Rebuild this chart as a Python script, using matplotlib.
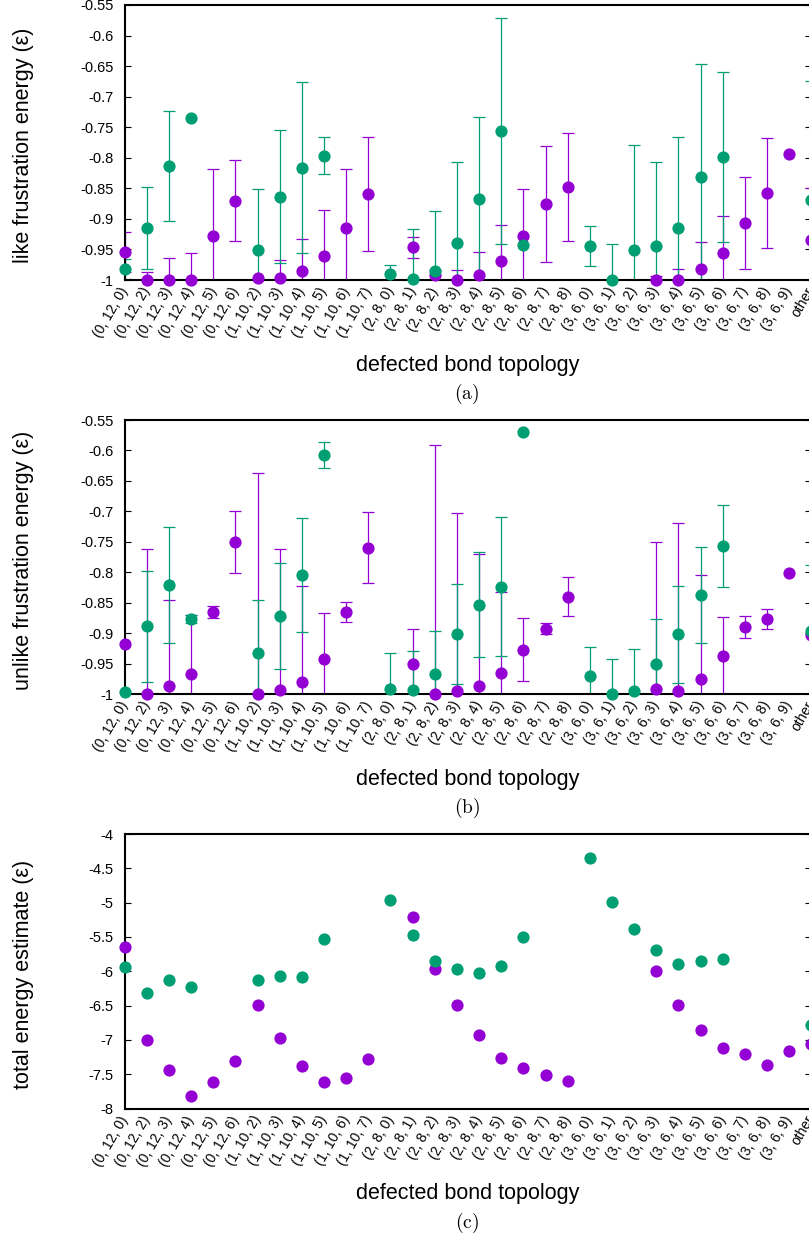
import numpy as np
import matplotlib
matplotlib.use("Agg")
import matplotlib.pyplot as plt

plt.rcParams['font.family'] = ['Liberation Sans', 'DejaVu Sans']
plt.rcParams['mathtext.fontset'] = 'cm'

nan = np.nan

# categories on the x axis
topologies = ["(0, 12, 0)", "(0, 12, 2)", "(0, 12, 3)", "(0, 12, 4)", "(0, 12, 5)", "(0, 12, 6)",
              "(1, 10, 2)", "(1, 10, 3)", "(1, 10, 4)", "(1, 10, 5)", "(1, 10, 6)", "(1, 10, 7)",
              "(2, 8, 0)", "(2, 8, 1)", "(2, 8, 2)", "(2, 8, 3)", "(2, 8, 4)", "(2, 8, 5)",
              "(2, 8, 6)", "(2, 8, 7)", "(2, 8, 8)", "(3, 6, 0)", "(3, 6, 1)", "(3, 6, 2)",
              "(3, 6, 3)", "(3, 6, 4)", "(3, 6, 5)", "(3, 6, 6)", "(3, 6, 7)", "(3, 6, 8)",
              "(3, 6, 9)", "other"]

# (a) like frustration energy: mean and std
like_purple = [-0.9536, -1.0, -1.0, -1.0, -0.9285, -0.8702, -0.997, -0.9965, -0.9857, -0.9607, -0.9144, -0.8593,
               nan, -0.9465, -0.9918, -1.0, -0.9913, -0.9695, -0.9275, -0.8756, -0.8473, nan, nan, nan,
               -1.0, -1.0, -0.9815, -0.9553, -0.9067, -0.8576, -0.7938, -0.9345]
like_purple_err = [0.0327, 0.0136, 0.0355, 0.0447, 0.1107, 0.0666, 0.0, 0.03, 0.053, 0.0758, 0.0966, 0.0935,
                   nan, 0.0175, 0.008, 0.0164, 0.037, 0.059, 0.076, 0.0945, 0.0884, nan, nan, nan,
                   0.0065, 0.0185, 0.043, 0.06, 0.0758, 0.0905, 0.0, 0.0845]
like_green = [-0.9825, -0.9144, -0.8135, -0.7355, nan, nan, -0.9509, -0.8636, -0.8162, -0.7965, nan, nan,
              -0.9902, -0.998, -0.9853, -0.94, -0.8669, -0.7562, -0.9433, nan, nan, -0.9444, -1.0, -0.9504,
              -0.9444, -0.9149, -0.832, -0.7982, nan, nan, nan, -0.8691]
like_green_err = [0.0165, 0.0671, 0.0905, 0.0, nan, nan, 0.1004, 0.1091, 0.1402, 0.0303, nan, nan,
                  0.0147, 0.081, 0.0977, 0.1331, 0.1336, 0.1855, 0.0, nan, nan, 0.0322, 0.0595, 0.1713,
                  0.1369, 0.1489, 0.1855, 0.1392, nan, nan, nan, 0.1947]

# (b) unlike frustration energy: mean and std
unlike_purple = [-0.9179, -1.0, -0.9869, -0.9677, -0.8653, -0.7504, -1.0, -0.9934, -0.9803, -0.9425, -0.8653, -0.7597,
                 nan, -0.9507, -1.0, -0.9945, -0.9863, -0.9661, -0.9272, -0.8927, -0.8401, nan, nan, nan,
                 -0.9923, -0.9945, -0.9748, -0.9376, -0.8894, -0.8768, -0.8018, -0.9031]
unlike_purple_err = [0.0, 0.2387, 0.1418, 0.0974, 0.0106, 0.0513, 0.3635, 0.2315, 0.1571, 0.0755, 0.0159, 0.0586,
                     nan, 0.0569, 0.4084, 0.2912, 0.2163, 0.1331, 0.052, 0.009, 0.0315, nan, nan, nan,
                     0.2425, 0.2753, 0.1708, 0.0646, 0.018, 0.0158, 0.0, 0.0]
unlike_green = [-0.9962, -0.8889, -0.8215, -0.8768, nan, nan, -0.9332, -0.8719, -0.8046, -0.6075, nan, nan,
                -0.9923, -0.9934, -0.9677, -0.9015, -0.8533, -0.8237, -0.5703, nan, nan, -0.9704, -1.0, -0.9945,
                -0.9513, -0.902, -0.8374, -0.7569, nan, nan, nan, -0.8965]
unlike_green_err = [0.0, 0.0915, 0.0952, 0.0065, nan, nan, 0.0876, 0.0867, 0.0942, 0.021, nan, nan,
                    0.0591, 0.064, 0.0712, 0.0816, 0.086, 0.1138, 0.0, nan, nan, 0.0481, 0.0569, 0.069,
                    0.0745, 0.08, 0.0794, 0.0673, nan, nan, nan, 0.1089]

# (c) total energy estimate
total_purple = [-5.650, -7.0, -7.437, -7.825, -7.607, -7.301, -6.490, -6.976, -7.374, -7.607, -7.558, -7.282,
                nan, -5.204, -5.966, -6.485, -6.927, -7.257, -7.417, -7.519, -7.592, nan, nan, nan,
                -5.990, -6.485, -6.854, -7.117, -7.199, -7.359, -7.165, -7.058]
total_green = [-5.942, -6.320, -6.126, -6.233, nan, nan, -6.121, -6.073, -6.078, -5.524, nan, nan,
               -4.961, -5.476, -5.850, -5.966, -6.019, -5.927, -5.495, nan, nan, -4.350, -4.995, -5.388,
               -5.694, -5.893, -5.845, -5.825, nan, nan, nan, -6.777]

purple = "#9400d3"
green = "#009e73"

W, H = 809, 1239
fig = plt.figure(figsize=(W / 100, H / 100), dpi=100)
x = np.arange(len(topologies))


def make_axes(top, bottom):
    return fig.add_axes([124.7 / W, 1 - bottom / H, (811.3 - 124.7) / W, (bottom - top) / H])


def style(ax, ymin, ymax, step):
    ax.set_xlim(0, len(topologies) - 1)
    ax.set_ylim(ymin, ymax)
    ticks = np.round(np.arange(ymin, ymax + step / 2, step), 3)
    ax.set_yticks(ticks)
    ax.set_yticklabels(["%g" % t for t in ticks], fontsize=10.5)
    ax.tick_params(axis="y", direction="in", length=4.5, width=0.8, left=True, right=True, pad=8)
    ax.set_xticks(x)
    ax.set_xticklabels(topologies, rotation=60, ha="right", va="center",
                       rotation_mode="anchor", fontsize=10)
    ax.tick_params(axis="x", length=0, pad=6)
    for s in ax.spines.values():
        s.set_linewidth(1.5)


def draw(ax, vals, errs, color):
    v = np.array(vals, dtype=float)
    if errs is not None:
        e = np.array(errs, dtype=float)
        m = ~np.isnan(v) & (e > 0)
        ax.errorbar(x[m], v[m], yerr=e[m], fmt="none", ecolor=color, elinewidth=0.9,
                    capsize=4.3, capthick=0.9, zorder=2)
    ax.plot(x, v, "o", color=color, ms=8.8, mew=0, clip_on=False, zorder=3)


# top and bottom of each panel's frame, in pixels
panels = [
    (5, 280, like_purple, like_purple_err, like_green, like_green_err,
     -1, -0.55, 0.05, "like frustration energy (ε)", "(a)"),
    (420, 694, unlike_purple, unlike_purple_err, unlike_green, unlike_green_err,
     -1, -0.55, 0.05, "unlike frustration energy (ε)", "(b)"),
    (834, 1108.5, total_purple, None, total_green, None,
     -8, -4, 0.5, "total energy estimate (ε)", "(c)"),
]

for top, bottom, pv, pe, gv, ge, ymin, ymax, step, ylab, cap in panels:
    ax = make_axes(top, bottom)
    style(ax, ymin, ymax, step)
    draw(ax, pv, pe, purple)
    draw(ax, gv, ge, green)
    fig.text(24 / W, 1 - ((top + bottom) / 2 + 3) / H, ylab, rotation=90,
             ha="center", va="center", fontsize=15.5)
    fig.text(468 / W, 1 - (bottom + 85) / H, "defected bond topology",
             ha="center", va="center", fontsize=15.5)
    fig.text(467 / W, 1 - (bottom + 114) / H, r"$\mathrm{" + cap + "}$",
             ha="center", va="center", fontsize=14)

fig.savefig("out.png", dpi=100)
